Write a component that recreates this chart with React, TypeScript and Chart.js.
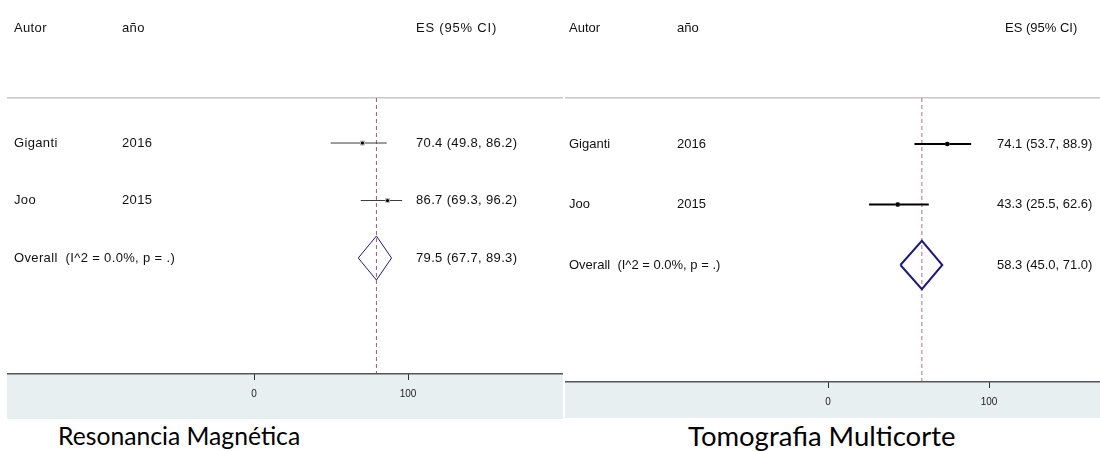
import React, { useEffect, useRef } from "react";
import { Chart, registerables } from "chart.js";
Chart.register(...registerables);

// ---- data ----
const authors = ["Giganti", "Joo"];
const years = ["2016", "2015"];
const rows = [1, 2];
const overallRow = 3;
const mriEstimate = [70.4, 86.7];
const mriLower = [49.8, 69.3];
const mriUpper = [86.2, 96.2];
const mriOverall = [79.5, 67.7, 89.3];
const ctEstimate = [74.1, 43.3];
const ctLower = [53.7, 25.5];
const ctUpper = [88.9, 62.6];
const ctOverall = [58.3, 45.0, 71.0];
const overallLabel = "Overall  (I^2 = 0.0%, p = .)";
const headers = ["Autor", "año", "ES (95% CI)"];
const xTicks = [0, 100];
const titles = ["Resonancia Magnética", "Tomografia Multicorte"];

const fmt = (v: number) => v.toFixed(1);

type Panel = {
  left: number; width: number; height: number; padLeft: number; padRight: number;
  axisH: number; yMin: number; yMax: number; cols: number[]; valX: number;
  spacing: string; headSpacing: string; ciW: number; ciColor: string; diaW: number;
  boxR: number; dotR: number; dash: string; tickPad: number;
  est: number[]; lo: number[]; hi: number[]; ov: number[]; diaH: number;
};

const panels: Panel[] = [
  {
    left: 7, width: 556, height: 419, padLeft: 247, padRight: 155, axisH: 45,
    yMin: 0.217, yMax: 5.017, cols: [7, 115, 409], valX: 409,
    spacing: "0.35px", headSpacing: "0.8px", ciW: 1, ciColor: "#3a3a3a", diaW: 1,
    boxR: 3.5, dotR: 1.6, dash: "#a05a6a", diaH: 0.383, tickPad: 8,
    est: mriEstimate, lo: mriLower, hi: mriUpper, ov: mriOverall,
  },
  {
    left: 565, width: 535, height: 418, padLeft: 263, padRight: 111, axisH: 36,
    yMin: 0.24, yMax: 4.934, cols: [4, 112, 440], valX: 432,
    spacing: "0px", headSpacing: "0px", ciW: 2, ciColor: "#000", diaW: 2,
    boxR: 3, dotR: 2.3, dash: "#b07080", diaH: 0.4, tickPad: 8,
    est: ctEstimate, lo: ctLower, hi: ctUpper, ov: ctOverall,
  },
];

const FONT = "13px 'Liberation Sans', Arial, sans-serif";

function ForestChart({ p }: { p: Panel }) {
  const ref = useRef<HTMLCanvasElement | null>(null);
  useEffect(() => {
    if (!ref.current) return;
    const ciSets = rows.map((r, i) => ({
      data: [{ x: p.lo[i], y: r }, { x: p.hi[i], y: r }],
      showLine: true, borderColor: p.ciColor, borderWidth: p.ciW,
      pointRadius: 0, order: 3,
    }));
    const boxes = {
      data: rows.map((r, i) => ({ x: p.est[i], y: r })),
      pointStyle: "rect", pointRadius: p.boxR, backgroundColor: "#bdbdbd",
      borderWidth: 0, order: 2,
    };
    const dots = {
      data: rows.map((r, i) => ({ x: p.est[i], y: r })),
      pointStyle: "circle", pointRadius: p.dotR, backgroundColor: "#000",
      borderWidth: 0, order: 1,
    };
    const [oe, ol, oh] = p.ov;
    const diamond = {
      data: [
        { x: ol, y: overallRow }, { x: oe, y: overallRow - p.diaH },
        { x: oh, y: overallRow }, { x: oe, y: overallRow + p.diaH },
        { x: ol, y: overallRow },
      ],
      showLine: true, borderColor: "#1c1c78", borderWidth: p.diaW, pointRadius: 0,
      fill: false, order: 0,
    };
    const refLine = {
      data: [{ x: oe, y: p.yMin }, { x: oe, y: p.yMax }],
      showLine: true, borderColor: p.dash, borderWidth: 1, borderDash: [4, 3],
      pointRadius: 0, order: 4,
    };
    const textPlugin = {
      id: "forestText",
      beforeDraw(chart: any) {
        const { ctx, chartArea, width, height } = chart;
        ctx.save();
        ctx.fillStyle = "#e8eff1";
        ctx.fillRect(0, chartArea.bottom, width, height - chartArea.bottom);
        ctx.fillStyle = "#c8c8c8";
        ctx.fillRect(0, chartArea.top - 1, width, 1.5);
        ctx.restore();
      },
      afterDraw(chart: any) {
        const { ctx, chartArea, width } = chart;
        const ys = chart.scales.y;
        ctx.save();
        ctx.fillStyle = "#555";
        ctx.fillRect(0, chartArea.bottom - 1, width, 1.5);
        ctx.fillStyle = "#111";
        ctx.textBaseline = "middle";
        ctx.textAlign = "left";
        ctx.font = FONT;
        ctx.letterSpacing = p.spacing;
        ctx.fillText(headers[0], p.cols[0], 28);
        ctx.fillText(headers[1], p.cols[1], 28);
        ctx.letterSpacing = p.headSpacing;
        ctx.fillText(headers[2], p.cols[2], 28);
        ctx.letterSpacing = p.spacing;
        rows.forEach((r, i) => {
          const y = ys.getPixelForValue(r);
          ctx.fillText(authors[i], p.cols[0], y);
          ctx.fillText(years[i], p.cols[1], y);
          ctx.fillText(`${fmt(p.est[i])} (${fmt(p.lo[i])}, ${fmt(p.hi[i])})`, p.valX, y);
        });
        const yo = ys.getPixelForValue(overallRow);
        ctx.fillText(overallLabel, p.cols[0], yo);
        ctx.fillText(`${fmt(oe)} (${fmt(ol)}, ${fmt(oh)})`, p.valX, yo);
        ctx.restore();
      },
    };
    const chart = new Chart(ref.current, {
      type: "scatter",
      data: { datasets: [refLine, ...ciSets, boxes, dots, diamond] as any },
      options: {
        animation: false,
        responsive: false,
        devicePixelRatio: 1,
        layout: { padding: { left: p.padLeft, right: p.padRight, top: 98, bottom: 0 } },
        plugins: { legend: { display: false }, tooltip: { enabled: false } },
        scales: {
          x: {
            type: "linear", min: xTicks[0], max: xTicks[xTicks.length - 1],
            afterBuildTicks: (s: any) => { s.ticks = xTicks.map((v) => ({ value: v })); },
            afterFit: (s: any) => { s.height = p.axisH; },
            grid: { drawOnChartArea: false, drawTicks: true, tickLength: 6, color: "#333" },
            border: { display: false },
            ticks: {
              color: "#222", padding: p.tickPad,
              font: { family: "'Liberation Sans', Arial, sans-serif", size: 10 },
            },
          },
          y: { type: "linear", reverse: true, min: p.yMin, max: p.yMax, display: false },
        },
      } as any,
      plugins: [textPlugin],
    });
    return () => chart.destroy();
  }, [p]);
  return (
    <canvas
      ref={ref}
      width={p.width}
      height={p.height}
      style={{ position: "absolute", left: p.left, top: 0, width: p.width, height: p.height }}
    />
  );
}

function Caption({ text, left, size }: { text: string; left: number; size: number }) {
  return (
    <div
      style={{
        position: "absolute", left, top: 446 - 0.887 * size,
        fontFamily: "Lato, 'Open Sans', sans-serif", fontSize: size,
        lineHeight: `${size}px`, color: "#000", whiteSpace: "nowrap",
      }}
    >
      {text}
    </div>
  );
}

export default function App() {
  return (
    <div style={{ position: "fixed", left: 0, top: 0, width: 1100, height: 451, background: "#fff", overflow: "hidden" }}>
      <ForestChart p={panels[0]} />
      <ForestChart p={panels[1]} />
      <Caption text={titles[0]} left={58} size={24.7} />
      <Caption text={titles[1]} left={688} size={27.5} />
    </div>
  );
}
